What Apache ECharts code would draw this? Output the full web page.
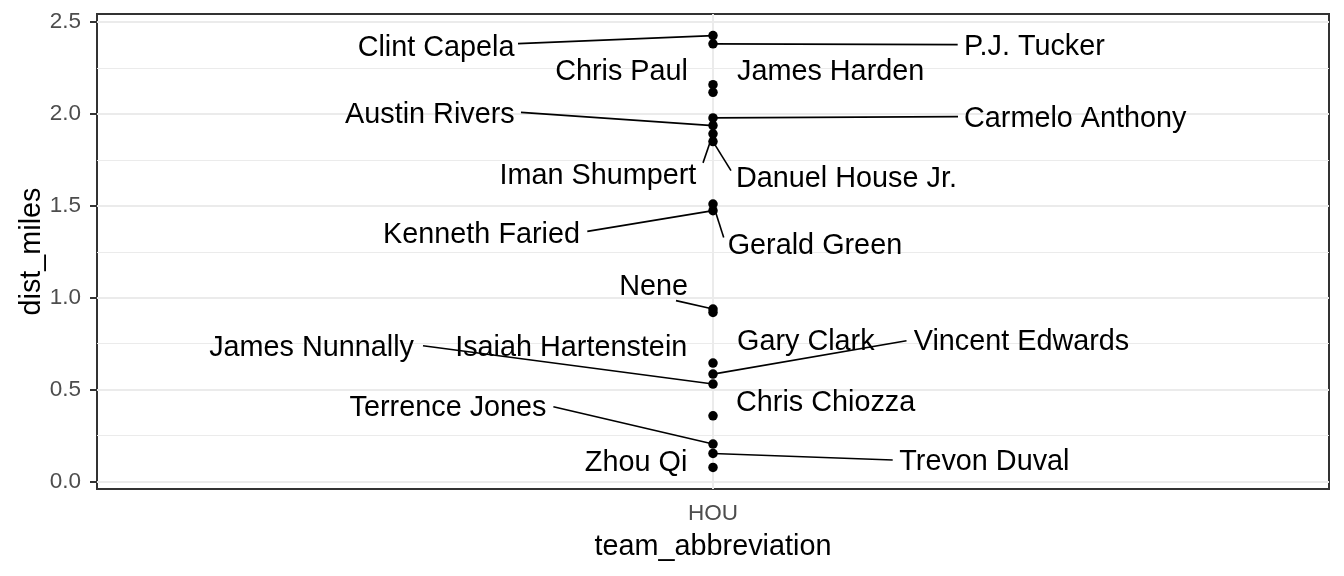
<!DOCTYPE html>
<html><head><meta charset="utf-8">
<script src="https://cdn.jsdelivr.net/npm/echarts@6/dist/echarts.min.js"></script>
<style>html,body{margin:0;padding:0;background:#fff}#c{width:1344px;height:576px}</style>
</head><body><div id="c"></div>
<script>
// ---- data ----
const categories = ['HOU'];
const players = ['Clint Capela','P.J. Tucker','Chris Paul','James Harden','Carmelo Anthony','Austin Rivers',
  'Iman Shumpert','Danuel House Jr.','Gerald Green','Kenneth Faried','Nene','Gary Clark','Isaiah Hartenstein',
  'Vincent Edwards','James Nunnally','Chris Chiozza','Terrence Jones','Trevon Duval','Zhou Qi'];
const distMiles = [2.427, 2.382, 2.160, 2.118, 1.979, 1.937, 1.892, 1.850, 1.510, 1.474, 0.938, 0.920, 0.644,
  0.584, 0.530, 0.357, 0.203, 0.152, 0.076];
const yTicks = [0, 0.5, 1.0, 1.5, 2.0, 2.5];
const yMinor = [0.25, 0.75, 1.25, 1.75, 2.25];
const yTickLabels = ['0.0', '0.5', '1.0', '1.5', '2.0', '2.5'];

// ---- repel label layout (side, horizontal offset in px from the point column, label y in data units,
//      segment end offset px / y in data units) ----
const labelSide = ['L','R','L','R','R','L','L','R','R','L','L','R','L','R','L','R','L','R','L'];
const labelDx = [-198.5, 251, -25, 24, 251, -198.3, -16.7, 23, 14.7, -133, -25, 24, -25.7, 200.7, -299, 23, -166.5, 186.3, -25.7];
const labelY = [2.367, 2.371, 2.234, 2.234, 1.982, 2.004, 1.672, 1.655, 1.289, 1.347, 1.067, 0.767, 0.733,
  0.767, 0.733, 0.436, 0.405, 0.111, 0.109];
const segDx = [-195, 244.7, null, null, 245, -192, -10, 18, 10.7, -125.7, -37, null, null, 193.5, -290, null, -159.6, 179.7, null];
const segY = [2.383, 2.378, null, null, 1.986, 2.009, 1.734, 1.692, 1.328, 1.361, 0.984, null, null, 0.766, 0.738, null, 0.406, 0.116, null];

const dMin = Math.min(...distMiles), dMax = Math.max(...distMiles);
const pad = (dMax - dMin) * 0.05;
const yLo = dMin - pad, yHi = dMax + pad;

const FONT = '"Liberation Sans", Arial, Helvetica, sans-serif';
const chart = echarts.init(document.getElementById('c'), null, {renderer: 'canvas'});

const gridLines = [];
yTicks.forEach(v => gridLines.push({yAxis: v, lineStyle: {color: '#EBEBEB', width: 2, type: 'solid'}}));
yMinor.forEach(v => gridLines.push({yAxis: v, lineStyle: {color: '#EBEBEB', width: 1, type: 'solid'}}));
gridLines.push({xAxis: 0, lineStyle: {color: '#EBEBEB', width: 2, type: 'solid'}});

chart.setOption({
  animation: false,
  backgroundColor: '#ffffff',
  grid: {left: 97, right: 15, top: 14, bottom: 87, show: true, borderColor: '#333333', borderWidth: 2, backgroundColor: '#ffffff'},
  xAxis: {
    type: 'category', data: categories, boundaryGap: true,
    name: 'team_abbreviation', nameLocation: 'middle', nameGap: 44, nameMoveOverlap: false,
    nameTextStyle: {color: '#000', fontSize: 28.8, fontFamily: FONT},
    axisLine: {show: false},
    axisTick: {show: true, alignWithLabel: true, length: 7, lineStyle: {color: '#333333', width: 2}},
    axisLabel: {color: '#4D4D4D', fontSize: 22.5, fontFamily: FONT, margin: 13},
    splitLine: {show: false}
  },
  yAxis: {
    type: 'value', min: yLo, max: yHi,
    name: 'dist_miles', nameLocation: 'middle', nameGap: 50, nameRotate: 90, nameMoveOverlap: false,
    nameTextStyle: {color: '#000', fontSize: 28.8, fontFamily: FONT},
    axisLine: {show: false},
    axisTick: {show: true, length: 7, lineStyle: {color: '#333333', width: 2}, customValues: yTicks},
    axisLabel: {color: '#4D4D4D', fontSize: 22.5, fontFamily: FONT, margin: 16,
      customValues: yTicks,
      formatter: v => { const i = yTicks.findIndex(t => Math.abs(t - v) < 1e-9); return i >= 0 ? yTickLabels[i] : ''; }},
    splitLine: {show: false}, minorSplitLine: {show: false}
  },
  series: [
    {type: 'line', data: [], z: 1, silent: true,
     markLine: {z: 1, silent: true, symbol: 'none', label: {show: false}, animation: false, data: gridLines}},
    {type: 'scatter', z: 3, symbol: 'circle', symbolSize: 9.5, itemStyle: {color: '#000000', opacity: 1},
     data: distMiles.map(v => [0, v])},
    {type: 'custom', z: 4, silent: true, clip: false,
     data: distMiles.map(v => [0, v]),
     renderItem: function (params, api) {
       const i = params.dataIndex;
       const p = api.coord([0, distMiles[i]]);
       const ly = api.coord([0, labelY[i]])[1] + 1.5;
       const children = [];
       if (segDx[i] !== null) {
         const sy = api.coord([0, segY[i]])[1];
         children.push({type: 'line', shape: {x1: p[0], y1: p[1], x2: p[0] + segDx[i], y2: sy},
           style: {stroke: '#000000', lineWidth: 1.6}});
       }
       children.push({type: 'text', style: {
         text: players[i], x: p[0] + labelDx[i], y: ly,
         align: labelSide[i] === 'L' ? 'right' : 'left', verticalAlign: 'middle',
         fill: '#000000', fontSize: 28.8, fontFamily: FONT}});
       return {type: 'group', children: children};
     }}
  ]
});
</script></body></html>
